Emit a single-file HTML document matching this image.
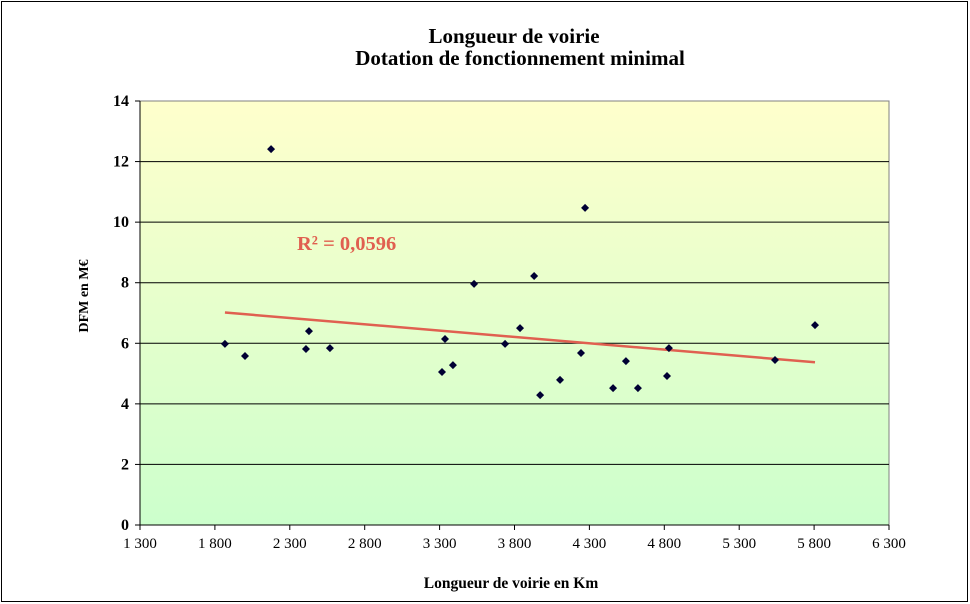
<!DOCTYPE html>
<html><head><meta charset="utf-8"><style>
html,body{margin:0;padding:0;background:#fff}
svg{display:block;font-family:"Liberation Serif",serif}
</style></head><body>
<svg id="chart" width="970" height="604" viewBox="0 0 970 604">
<defs><linearGradient id="bg" x1="0" y1="0" x2="0" y2="1">
<stop offset="0" stop-color="#ffffcc"/><stop offset="1" stop-color="#ccffcc"/></linearGradient></defs>
<rect x="1.5" y="1.5" width="966" height="600" fill="#fff" stroke="#000"/>
<text x="514" y="43" text-anchor="middle" font-size="21" font-weight="bold">Longueur de voirie</text>
<text x="520" y="65" text-anchor="middle" font-size="21" font-weight="bold">Dotation de fonctionnement minimal</text>
<rect x="140" y="101" width="749" height="424" fill="url(#bg)" stroke="#808080"/>
<g id="grid"></g><g id="axes"></g><g id="trend"></g><g id="pts"></g>
<text x="297" y="250" font-size="20.5" font-weight="bold" fill="#e06050">R² = 0,0596</text>
<text x="511" y="588" text-anchor="middle" font-size="15.5" font-weight="bold">Longueur de voirie en Km</text>
<text transform="translate(88,296) rotate(-90)" text-anchor="middle" font-size="14" font-weight="bold">DFM en M€</text>
</svg>
<script>
const xTicks=[1300,1800,2300,2800,3300,3800,4300,4800,5300,5800,6300];
const xTickLabels=["1 300","1 800","2 300","2 800","3 300","3 800","4 300","4 800","5 300","5 800","6 300"];
const yTicks=[0,2,4,6,8,10,12,14];
const xVals=[1867,2001,2175,2408,2428,2568,3316,3336,3389,3530,3737,3837,3931,3971,4104,4244,4271,4458,4544,4624,4818,4831,5539,5806];
const yVals=[5.98,5.58,12.41,5.81,6.40,5.84,5.05,6.14,5.28,7.96,5.98,6.50,8.22,4.29,4.79,5.68,10.47,4.52,5.41,4.52,4.92,5.84,5.45,6.60];
const NS="http://www.w3.org/2000/svg";
const X=v=>140+(v-1300)/5000*749, Y=v=>525-v/14*424;
function mk(t,a,p){const e=document.createElementNS(NS,t);for(const k in a)e.setAttribute(k,a[k]);p.appendChild(e);return e;}
const grid=document.getElementById('grid'),axes=document.getElementById('axes');
yTicks.forEach(v=>{
 if(v>0&&v<14){const l=mk('line',{x1:140,x2:889,y1:Y(v),y2:Y(v),stroke:'#000'},grid);
 
 }
 mk('line',{x1:135,x2:140,y1:Y(v),y2:Y(v),stroke:'#000'},axes);
 const t=mk('text',{x:129,y:Y(v)+5,'text-anchor':'end','font-size':16,'font-weight':'bold'},axes);t.textContent=v;
 
 
});
xTicks.forEach((v,i)=>{
 mk('line',{x1:X(v),x2:X(v),y1:525,y2:530,stroke:'#000'},axes);
 const t=mk('text',{x:X(v),y:548,'text-anchor':'middle','font-size':15},axes);t.textContent=xTickLabels[i];
 
 
});
mk('line',{x1:140,x2:140,y1:101,y2:525,stroke:'#000'},axes);
mk('line',{x1:140,x2:889,y1:525,y2:525,stroke:'#000'},axes);
const n=xVals.length;let sx=0,sy=0,sxx=0,sxy=0;
for(let i=0;i<n;i++){sx+=xVals[i];sy+=yVals[i];sxx+=xVals[i]*xVals[i];sxy+=xVals[i]*yVals[i];}
const b=(n*sxy-sx*sy)/(n*sxx-sx*sx),a=(sy-b*sx)/n;
const x0=Math.min(...xVals),x1=Math.max(...xVals);
const tl=mk('line',{x1:X(x0),y1:Y(a+b*x0),x2:X(x1),y2:Y(a+b*x1),stroke:'#e06050','stroke-width':2.5},document.getElementById('trend'));


const pts=document.getElementById('pts');
xVals.forEach((v,i)=>{const cx=X(v),cy=Y(yVals[i]);
 const p=mk('polygon',{points:`${cx},${cy-4} ${cx+4},${cy} ${cx},${cy+4} ${cx-4},${cy}`,fill:'#000033'},pts);
 
 
});
</script>
</body></html>
